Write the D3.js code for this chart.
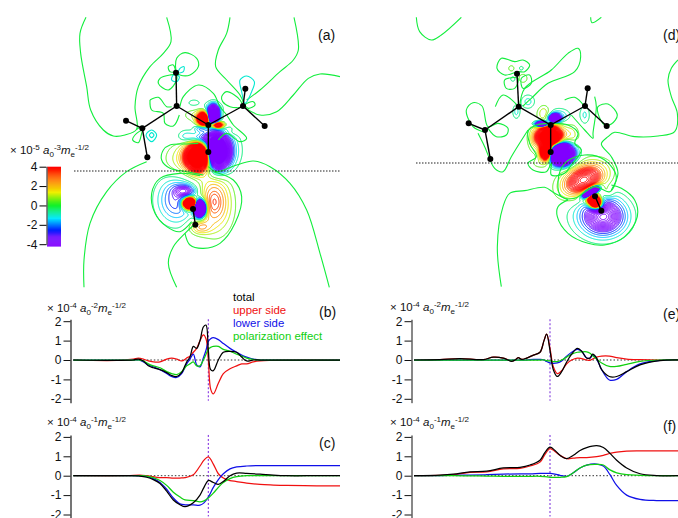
<!DOCTYPE html>
<html><head><meta charset="utf-8">
<script src="https://cdn.jsdelivr.net/npm/d3@7"></script>
<style>html,body{margin:0;background:#fff}svg{display:block}text{font-family:"Liberation Sans",Arial,sans-serif;fill:#111}</style>
</head><body><svg id="c" width="678" height="518"></svg>
<script>
// ---- line panels: x in map units, y in 10^-4 units
const bX=[220,350,400,415,430,445,460,480,500,515,530,545,560,570,580,590,600,610,618,625,632,640,655,670,690,710,725,740,760,780,850,1020];
const bTotal=[0,-.02,0,.05,-.05,-.3,-.4,-.5,-.65,-.8,-.85,-.65,-.1,.15,.7,.6,1,1.7,1.8,.5,-.5,-.55,0,.4,.45,.4,.15,-.05,0,0,0,0];
const bUpper=[0,-.02,.05,.1,.05,-.05,-.1,-.1,.05,.1,.05,-.05,.1,.2,.4,.6,1,1.3,1.1,0,-1.5,-1.75,-1.2,-.7,-.45,-.3,-.2,-.2,-.1,-.05,0,0];
const bLower=[0,0,0,0,-.1,-.25,-.35,-.5,-.7,-.85,-.9,-.7,-.2,.05,.3,-.25,-.35,.1,.5,.95,1.1,1.15,1.05,.85,.6,.4,.25,.15,.05,0,0,0];
const bPol=[0,0,0,0,-.05,-.2,-.3,-.4,-.6,-.7,-.75,-.6,-.3,-.2,-.1,-.3,-.3,0,.3,.55,.65,.7,.7,.55,.45,.3,.2,.1,.03,0,0,0];
const cX=[220,380,420,440,460,480,500,520,540,555,580,600,612,625,640,655,670,690,710,740,780,820,860,950,1020];
const cTotal=[0,0,-.02,-.08,-.2,-.4,-.8,-1.25,-1.5,-1.6,-1.4,-1,-.6,-.25,-.35,-.45,-.3,0,.13,.12,.08,.03,0,0,0];
const cUpper=[0,0,.03,0,-.05,-.1,-.1,-.12,-.12,-.1,.05,.5,.8,.97,.6,.1,-.12,-.25,-.3,-.38,-.45,-.48,-.5,-.52,-.52];
const cLower=[0,0,-.01,-.05,-.15,-.35,-.7,-1.15,-1.45,-1.5,-1.5,-1.52,-1.4,-1.1,-.6,-.2,.1,.35,.45,.5,.52,.52,.52,.52,.52];
const cPol=[0,0,0,-.02,-.1,-.25,-.5,-.85,-1.1,-1.25,-1.28,-1.35,-1.3,-1.15,-.9,-.6,-.35,-.15,-.05,0,0,0,0,0,0];
const eX=[222,300,360,430,460,490,515,525,535,545,560,580,600,612,620,630,640,652,665,680,695,712,725,740,750,758,770,785,808,830,860,900,960,1014];
const eTotal=[0,.02,.07,.02,.15,.1,-.07,0,.12,.03,.1,.25,.4,1,1.33,.5,-.5,-.85,-.6,-.1,.3,.6,.45,.1,.1,.3,.1,-.5,-.85,-.85,-.6,-.25,-.03,0];
const eUpper=[0,.02,.07,.02,.15,.1,-.05,0,.12,.03,.1,.25,.4,1,1.33,.6,-.35,-.7,-.55,-.2,0,.1,.07,0,-.02,.05,.15,.2,.2,.12,.05,.02,0,0];
const eLower=[0,0,0,0,0,0,0,0,0,0,0,.03,.03,0,-.08,-.15,-.17,-.15,-.05,.2,.4,.55,.45,.1,.1,.25,.05,-.5,-1.03,-1,-.6,-.2,-.02,0];
const ePol=[0,0,0,0,0,0,0,0,0,0,0,0,0,0,-.03,-.05,-.08,-.08,0,.15,.3,.4,.42,.42,.35,.22,.05,-.15,-.33,-.33,-.22,-.07,0,0];
const fX=[222,300,340,390,440,490,540,570,600,615,630,645,660,680,700,720,740,770,790,810,830,860,900,950,1014];
const fTotal=[0,.03,.08,.2,.23,.4,.43,.55,.8,1.2,1.47,1.3,1.05,.88,1.05,1.3,1.45,1.55,1.45,1.15,.8,.4,.1,.01,0];
const fUpper=[0,.02,.06,.17,.2,.35,.38,.5,.7,1.1,1.4,1.25,1.05,.88,.9,.93,.93,.98,1.05,1.15,1.22,1.27,1.28,1.28,1.28];
const fLower=[0,.01,.02,.03,.05,.08,.1,.1,.12,.12,.12,.08,.02,-.03,.15,.4,.55,.6,.5,.05,-.5,-1,-1.22,-1.28,-1.28];
const fPol=[0,0,0,-.01,-.02,-.03,-.03,-.03,-.03,-.05,-.08,-.08,-.08,-.05,.15,.4,.55,.58,.55,.3,.15,.05,.02,0,0];
const seriesNames=["total","upper side","lower side","polarization effect"];
const yTicks=[2,1,0,-1,-2], barTicks=[4,2,0,-2,-4];
// ---- density maps: lobes [cx,cy,sx,sy,angle,amp] in map units
const aLobes=[[385,470,24,27,0,14],[345,480,40,35,0,1.5],[442,455,23,34,0,-13],[470,450,30,40,0,-1.5],[405,415,30,11,0,-3.5],
[400,358,12,14,0,10],[430,348,11,19,0,-11],[440,375,14,7,0,9],[395,385,14,8,0,-3],[350,410,20,15,0,-1.3],[430,325,17,11,0,-1.6],[375,345,24,14,0,1],[372,310,20,12,0,-.7],[470,400,20,8,0,.8],
[345,572,22,12,0,-2.8],[320,600,38,45,0,-3],[358,610,13,11,0,15],[390,625,11,16,0,-15],[432,602,30,50,0,3.2],[440,640,40,60,0,.6],[390,682,22,14,0,2.2]];
const dLobes=[[425,410,24,21,0,14],[415,458,12,16,0,12],[458,460,25,21,0,-15],[402,372,14,6,0,-9],[440,355,11,8,0,-9],[408,340,14,16,0,1.6],[452,348,24,15,0,-1.6],
[490,410,17,26,0,1.3],[380,420,13,28,0,1.1],[400,490,22,12,0,.8],[470,490,18,10,0,-.6],[530,345,11,20,0,-1.1],[360,305,15,15,0,-1.2],[325,335,8,15,0,-1.2],[345,235,11,11,0,.9],[310,205,8,8,0,.8],[340,205,6,6,0,-.8],[315,237,7,7,0,-.8],
[527,540,43,28,-25,6.9],[548,575,17,7,-30,-16],[560,605,15,12,45,15],[600,580,12,12,0,1],[587,650,40,35,0,-5.5],[570,645,58,42,0,-1.4]];
const aAtoms=[[318,218],[320,318],[168,362],[217,385],[232,472],[415,375],[415,456],[519,318],[526,266],[584,378],[369,627],[376,674]];
const aBonds=[[0,1],[1,3],[3,2],[3,4],[1,5],[5,6],[5,7],[7,8],[7,9],[10,11]];
const dAtoms=[[327,221],[332,320],[182,370],[231,390],[247,477],[428,375],[428,456],[531,318],[539,265],[596,378],[561,589],[580,632]];
const dBonds=[[0,1],[1,3],[3,2],[3,4],[1,5],[5,6],[5,7],[7,8],[7,9],[10,11]];
// zero-level contours, traced in map units
const aZeroOpen=[
[[48,52],[30,100],[32,160],[50,260],[62,330],[100,390],[130,408],[165,405],[200,388],[195,320],[205,260],[240,200],[280,160],[303,125],[290,52]],
[[230,485],[170,515],[110,575],[60,670],[42,780],[42,862]],
[[480,52],[470,100],[445,150],[437,200],[470,240],[510,285],[522,312]],
[[672,52],[685,150],[670,180],[630,215],[570,270],[530,300]],
[[810,230],[750,222],[715,235],[670,285],[620,335],[570,345],[528,325]],
[[778,862],[750,760],[710,630],[660,550],[600,500],[550,483],[500,495],[440,515],[415,500]],
[[320,862],[295,790],[310,740],[345,700],[372,675]],
[[390,527],[330,520],[270,535],[245,580],[255,640],[290,680],[330,695],[365,665]],
[[430,515],[490,540],[515,590],[495,670],[450,730],[400,745],[360,735],[345,700]],
[[400,525],[350,515],[300,505],[275,480],[280,450],[300,435],[350,432],[385,430]],
[[200,388],[215,378]],[[240,300],[265,292],[290,320],[305,320]],[[240,300],[245,330],[280,340],[285,370],[310,378],[328,345]],
[[330,320],[340,290],[385,255],[430,280],[450,320],[470,345],[490,375],[530,415],[510,425],[470,400],[445,420]]];
const aZeroClosed=[
[[320,218],[320,175],[345,158],[380,175],[385,200],[360,225],[330,225]],[[318,225],[300,225],[270,235],[265,250],[295,270],[320,240]],
[[295,200],[310,195],[315,215],[300,215]],[[455,290],[470,275],[510,300],[515,320],[480,320],[458,305]],[[525,315],[550,305],[555,315],[535,325]],
[[217,390],[195,405],[188,420],[205,428],[215,400]]];
const aCyan=[[[228,405],[245,390],[260,405],[245,425]],[[238,405],[245,398],[252,405],[245,413]],[[510,240],[530,228],[553,245],[545,275],[525,310],[515,275]],
[[310,225],[305,240],[320,245],[328,230]],[[330,205],[342,200],[340,215],[325,218]]];
const dZeroOpen=[
[[25,52],[35,95],[70,120],[100,105],[160,52]],[[548,52],[552,68],[580,52]],
[[280,860],[268,740],[285,620],[305,580],[350,572],[410,562],[440,580],[480,600]],
[[480,600],[450,620],[448,650],[480,700],[540,730],[590,735],[650,710],[688,650],[680,600],[640,565],[610,555]],
[[810,180],[790,205],[780,240],[790,290],[808,340],[800,395],[750,408],[680,410],[620,397],[600,410],[580,432],[610,470],[630,520],[610,570]],
[[335,320],[350,265],[430,210],[480,160],[510,145],[518,170],[500,215],[420,250],[370,295],[345,318]],
[[225,395],[195,380],[175,330],[195,308],[222,318],[240,380],[270,370],[300,385],[295,405],[265,410],[240,385]],
[[210,400],[230,440],[260,505],[285,515],[310,470],[360,390]],[[262,320],[285,285],[330,318]],
[[470,300],[500,292],[530,320]],[[560,290],[565,320],[555,400],[555,415],[530,390],[490,345]]];
const dZeroClosed=[
[[450,545],[470,490],[530,465],[590,480],[625,530],[605,575],[560,560],[500,595],[460,590]],
[[385,375],[360,395],[365,430],[385,470],[360,490],[375,510],[415,515],[430,490],[430,525],[470,520],[490,495],[520,450],[500,430],[510,400],[480,375],[430,370]],
[[570,320],[600,312],[628,345],[610,372],[590,375],[570,340]],
[[267,205],[280,175],[320,185],[345,180],[365,195],[350,215],[330,215],[290,225]],[[290,240],[295,265],[320,265],[330,235]],[[345,265],[370,250],[365,225],[340,235]]];

const svg=d3.select("#c");
const defs=svg.append("defs");
const rainbow=d3.scaleLinear().domain([-4,-3.2,-2.5,-1.3,0,1.4,2.6,4]).range(["#8000ff","#7010ff","#0020ff","#00e8ff","#00f020","#f0f000","#ff8000","#ff0000"]).clamp(true);
const zeroColor="#12ee3c";
const levels=[...d3.range(.5,3,.5),...d3.range(3,24,.3)].flatMap(l=>[l,-l]);
const fillLevel=7;

function fmtUnit(g,x,y,parts){
  const t=g.append("text").attr("x",x).attr("y",y).attr("font-size",11.5);
  let prev=0;
  parts.forEach(([s,k])=>{const off=k=="sup"?-4:k=="sub"?3:0;
    t.append("tspan").attr("dy",off-prev).attr("font-size",k=="sup"||k=="sub"?8:11.5).attr("font-style",k=="i"?"italic":"normal").text(s);prev=off;});
}
function unit(e1,e2){return [["× 10"],["-"+e1,"sup"],[" "],["a","i"],["0","sub"],[e2,"sup"],["m","i"],["e","sub"],["-1/2","sup"]];}

function map(id,x0,x1,lobes,atoms,bonds,open,closed,cyan,dotY,dot0,dot1){
  const x=d3.scaleLinear().domain([0,810]).range([x0,x1]), y=d3.scaleLinear().domain([0,870]).range([0,290]);
  const pad=4,w=x1-x0+2*pad,h=300, vals=new Float64Array(w*h);
  const L=lobes.map(([cx,cy,sx,sy,a,amp])=>({cx,cy,sx,sy,amp,c:Math.cos(a*Math.PI/180),s:Math.sin(a*Math.PI/180)}));
  for(let j=0;j<h;j++)for(let i=0;i<w;i++){
    const px=x.invert(x0-pad+i+.5),py=y.invert(j+.5);let v=0;
    for(const l of L){const dx=px-l.cx,dy=py-l.cy,u=(dx*l.c+dy*l.s)/l.sx,t=(-dx*l.s+dy*l.c)/l.sy,r2=u*u+t*t;if(r2<30)v+=l.amp*Math.exp(-r2/2);}
    vals[j*w+i]=v;
  }
  defs.append("clipPath").attr("id",id).append("rect").attr("x",x0).attr("y",17).attr("width",x1-x0).attr("height",271);
  const g=svg.append("g").attr("clip-path",`url(#${id})`);
  const cont=d3.contours().size([w,h]);
  const path=d3.geoPath();
  const cg=g.append("g").attr("transform",`translate(${x0-pad},0)`);
  levels.forEach(l=>{const geo=cont.thresholds([l])(vals)[0];
    cg.append("path").attr("d",path(geo)).attr("fill","none").attr("stroke",rainbow(l)).attr("stroke-width",1);});
  // saturated cores read as solid colour
  const neg=vals.map(v=>-v);
  cg.append("path").attr("d",path(cont.thresholds([fillLevel])(vals)[0])).attr("fill",rainbow(4));
  cg.append("path").attr("d",path(cont.thresholds([fillLevel])(neg)[0])).attr("fill",rainbow(-4));
  const lo=d3.line().x(d=>x(d[0])).y(d=>y(d[1])).curve(d3.curveCatmullRom.alpha(.5));
  const lc=d3.line().x(d=>x(d[0])).y(d=>y(d[1])).curve(d3.curveCatmullRomClosed.alpha(.5));
  g.selectAll(null).data(open).join("path").attr("d",lo).attr("fill","none").attr("stroke",zeroColor).attr("stroke-width",1.1);
  g.selectAll(null).data(closed).join("path").attr("d",lc).attr("fill","none").attr("stroke",zeroColor).attr("stroke-width",1.1);
  g.selectAll(null).data(cyan).join("path").attr("d",lc).attr("fill","none").attr("stroke","#00e8d0").attr("stroke-width",1.1);
  svg.append("line").attr("x1",dot0).attr("x2",dot1).attr("y1",dotY).attr("y2",dotY).attr("stroke","#222").attr("stroke-width",1.1).attr("stroke-dasharray","1.5,1.5");
  svg.selectAll(null).data(bonds).join("line").attr("x1",d=>x(atoms[d[0]][0])).attr("y1",d=>y(atoms[d[0]][1])).attr("x2",d=>x(atoms[d[1]][0])).attr("y2",d=>y(atoms[d[1]][1])).attr("stroke","#000").attr("stroke-width",1.4);
  svg.selectAll(null).data(atoms).join("circle").attr("cx",d=>x(d[0])).attr("cy",d=>y(d[1])).attr("r",3).attr("fill","#000");
}
map("ma",70,340,aLobes,aAtoms,aBonds,aZeroOpen,aZeroClosed,aCyan,171,74,340);
map("md",408,678,dLobes,dAtoms,dBonds,dZeroOpen,dZeroClosed,[],163,416,678);

function panel(xs,total,upper,lower,pol,o){
  const x=d3.scaleLinear().domain([0,o.xMax]).range([o.x0,o.x1]);
  const y=d3.scaleLinear().domain([2.1,o.yBot]).range([o.y0-2.1*19.4,o.y0-o.yBot*19.4]);
  const g=svg.append("g");
  g.append("line").attr("x1",x(xs[0])).attr("x2",x(xs[xs.length-1])).attr("y1",y(0)).attr("y2",y(0)).attr("stroke","#333").attr("stroke-dasharray","1.5,2");
  g.append("line").attr("x1",o.xv).attr("x2",o.xv).attr("y1",y(2.1)).attr("y2",y(-2.1)).attr("stroke",o.vc).attr("stroke-width",o.vw).attr("stroke-dasharray","2,2");
  const line=d3.line().x((d,i)=>x(xs[i])).y(d=>y(d)).curve(d3.curveCatmullRom.alpha(.5));
  [[upper,"#f01010"],[lower,"#1010e8"],[pol,"#10d010"],[total,"#000"]].forEach(([s,c])=>
    g.append("path").attr("d",line(s)).attr("fill","none").attr("stroke",c).attr("stroke-width",1.25));
  const ax=g.append("g").attr("transform",`translate(${o.ax},0)`).call(d3.axisLeft(y).tickValues(yTicks).tickFormat(d=>d).tickSize(7).tickPadding(2).tickSizeOuter(0));
  ax.selectAll("text").attr("font-size",12).attr("font-family","Liberation Sans").attr("fill","#111");
  ax.selectAll(".tick line").attr("stroke","#111");
  ax.select(".domain").attr("stroke",o.ac).attr("stroke-width",o.aw);
  fmtUnit(g,o.ux,o.uy,unit(4,o.exp));
  g.append("text").attr("x",o.lx).attr("y",o.ly).attr("font-size",14).text(o.label);
}
const L={xMax:1020,x0:0,x1:340,xv:208.3,vc:"#7a1fe0",vw:1,ax:70.5,ac:"#666",aw:1.8,ux:47,lx:319};
const R={xMax:1014,x0:340,x1:678,xv:550,vc:"#a878e8",vw:1.6,ax:411.5,ac:"#111",aw:1,ux:390,lx:663};
panel(bX,bTotal,bUpper,bLower,bPol,{...L,y0:360,yBot:-2.2,uy:312,exp:"-2",ly:317,label:"(b)"});
panel(cX,cTotal,cUpper,cLower,cPol,{...L,y0:475.7,yBot:-2.2,uy:426,exp:"-1",ly:448,label:"(c)"});
panel(eX,eTotal,eUpper,eLower,ePol,{...R,y0:360,yBot:-2.2,uy:311,exp:"-2",ly:319,label:"(e)"});
panel(fX,fTotal,fUpper,fLower,fPol,{...R,y0:475.7,yBot:-2.2,uy:426,exp:"-1",ly:431,label:"(f)"});

svg.append("text").attr("x",318).attr("y",40).attr("font-size",14).text("(a)");
svg.append("text").attr("x",663).attr("y",40).attr("font-size",14).text("(d)");
[["#000",301],["#f01010",314],["#1010e8",327],["#10d010",340]].forEach(([c,yy],i)=>
  svg.append("text").attr("x",233).attr("y",yy).attr("font-size",11.4).style("fill",c).text(seriesNames[i]));

// colour bar
const cb=d3.scaleLinear().domain([4,-4]).range([166.7,244.2]);
const steps=d3.range(4,-4.2,-.1);
svg.selectAll(null).data(steps).join("rect").attr("x",47).attr("width",14).attr("y",d=>cb(d)).attr("height",1.4).attr("fill",d=>rainbow(d));
const bax=svg.append("g").attr("transform","translate(46.5,0)").call(d3.axisLeft(cb).tickValues(barTicks).tickFormat(d=>d).tickSize(7).tickPadding(2).tickSizeOuter(0));
bax.selectAll("text").attr("font-size",12).attr("font-family","Liberation Sans");
bax.select(".domain").attr("stroke","#666").attr("stroke-width",1.5);
fmtUnit(svg,10,154,[["× 10"],["-5","sup"],[" "],["a","i"],["0","sub"],["-3","sup"],["m","i"],["e","sub"],["-1/2","sup"]]);
</script></body></html>
